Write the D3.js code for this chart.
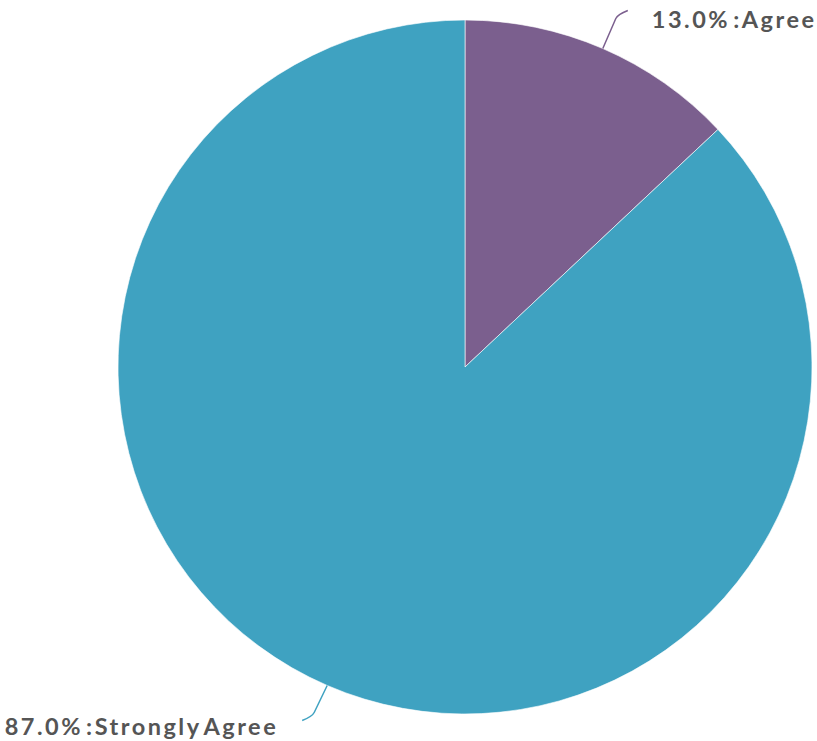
<!DOCTYPE html>
<html><head><meta charset="utf-8">
<script src="https://cdn.jsdelivr.net/npm/d3@7"></script>
<style>body{margin:0;background:#fff}svg{display:block}</style>
</head><body>
<script>
const categories = ["Agree", "Strongly Agree"];
const values = [13.0, 87.0];
const colors = ["#7b5f8e", "#3fa2c1"];

const W = 817, H = 741;
const cx = 465, cy = 367, R = 347;
const svg = d3.select("body").append("svg").attr("width", W).attr("height", H);
const g = svg.append("g").attr("transform", `translate(${cx},${cy})`);

const data = categories.map((c, i) => ({cat: c, v: values[i], col: colors[i]}));
const pie = d3.pie().sort(null).value(d => d.v);
const arc = d3.arc().innerRadius(0).outerRadius(R);
const arcs = pie(data);

g.selectAll("path.slice").data(arcs).join("path")
  .attr("class", "slice")
  .attr("d", arc)
  .attr("fill", d => d.data.col)
  .attr("stroke", "#fff").attr("stroke-width", 1).attr("stroke-opacity", 0.6);

arcs.forEach(a => {
  const mid = (a.startAngle + a.endAngle) / 2;
  const sx = R * Math.sin(mid), sy = -R * Math.cos(mid);
  const right = Math.sin(mid) >= 0;
  const dir = right ? 1 : -1;
  const up = sy < 0;
  const bx = sx + dir * 15, by = sy + (up ? -34 : 31);
  const hx = bx + dir * 10, hy = by + (up ? -4 : 4);
  const p = d3.path();
  p.moveTo(sx, sy);
  p.lineTo(bx - dir * 2, by + (up ? 4 : -4));
  p.quadraticCurveTo(bx, by, hx, hy);
  g.append("path").attr("d", p.toString())
    .attr("fill", "none").attr("stroke", a.data.col).attr("stroke-width", 1.5);
  g.append("text")
    .attr("x", hx + dir * 24)
    .attr("y", hy + (up ? 17 : 15))
    .attr("text-anchor", right ? "start" : "end")
    .attr("font-family", "Lato, sans-serif")
    .attr("font-weight", "bold")
    .attr("font-size", 23.5)
    .attr("letter-spacing", 2.5)
    .attr("word-spacing", -5)
    .attr("fill", "#555")
    .text(`${a.data.v.toFixed(1)}% :${a.data.cat}`);
});
</script>
</body></html>
